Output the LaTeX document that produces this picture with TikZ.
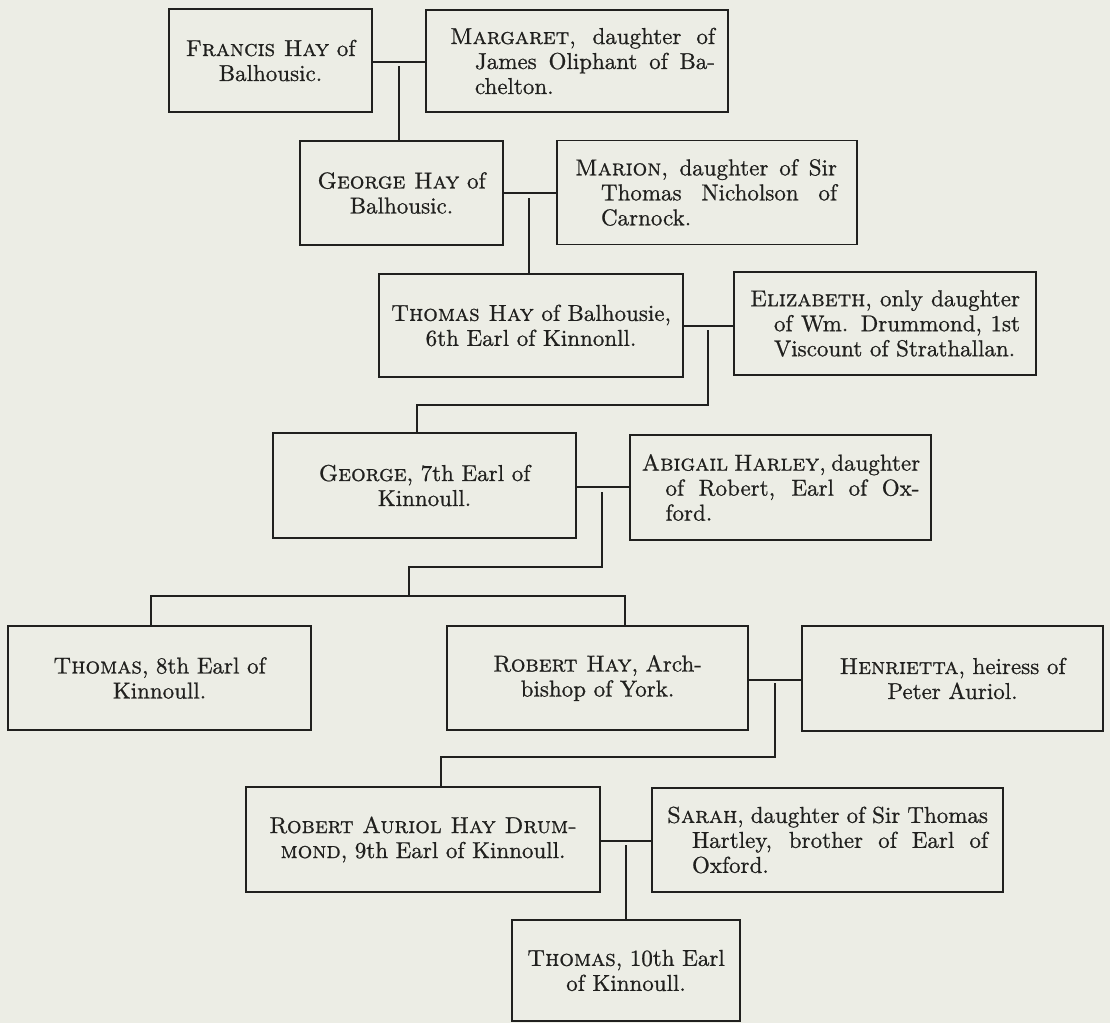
\documentclass[tikz,border=0pt]{standalone}
\usepackage{fontspec}
\setmainfont{lmroman10-regular.otf}[SmallCapsFont=lmromancaps10-regular.otf, ItalicFont=lmroman10-italic.otf, BoldFont=lmroman10-bold.otf, FakeBold=0.8, SmallCapsFeatures={FakeBold=0.8}]
\definecolor{paper}{RGB}{236,237,229}
\definecolor{ink}{RGB}{32,32,30}
\newcommand\justline[2]{\makebox[#1][s]{#2}}
\tikzset{
  box/.style={draw=ink, line width=1.3pt, inner sep=0pt, outer sep=0pt, text=ink,
    font=\fontsize{23}{25}\selectfont},
  hbox/.style={box, align=center},
  wbox/.style={box, align=left},
  link/.style={draw=ink, line width=1.6pt},
}
\begin{document}
\begin{tikzpicture}[x=1pt,y=-1pt]
\fill[paper] (0,0) rectangle (1110,1023);
\useasboundingbox (0,0) rectangle (1110,1023);

% generation 1
\node[hbox, minimum width=203pt, minimum height=103pt] (francis) at (270.5,60.5)
  {\textsc{Francis Hay} of\\Balhousic.};
\node[wbox, minimum width=302pt, minimum height=102pt] (margaret) at (577,61)
  {\hspace*{11pt}\justline{265pt}{\textsc{Margaret}, daughter of}\\
   \hspace*{36pt}\justline{240pt}{James Oliphant of Ba-}\\
   \hspace*{36pt}chelton.};

% generation 2
\node[hbox, minimum width=203pt, minimum height=104pt] (georgeh) at (401.5,193)
  {\textsc{George Hay} of\\Balhousic.};
\node[wbox, minimum width=300pt, minimum height=104pt] (marion) at (707,192.5)
  {\hspace*{-2pt}\justline{262pt}{\textsc{Marion}, daughter of Sir}\\
   \hspace*{24pt}\justline{236pt}{Thomas Nicholson of}\\
   \hspace*{24pt}Carnock.};

% generation 3
\node[hbox, minimum width=304pt, minimum height=103pt] (thomash) at (531,325.5)
  {\textsc{Thomas Hay} of Balhousie,\\6th Earl of Kinnonll.};
\node[wbox, minimum width=302pt, minimum height=103pt] (elizabeth) at (885,323.5)
  {\justline{270pt}{\textsc{Elizabeth}, only daughter}\\
   \hspace*{24pt}\justline{246pt}{of Wm. Drummond, 1st}\\
   \hspace*{24pt}Viscount of Strathallan.};

% generation 4
\node[hbox, minimum width=303pt, minimum height=105pt] (george7) at (424.5,485.5)
  {\textsc{George}, 7th Earl of\\Kinnoull.};
\node[wbox, minimum width=301pt, minimum height=105pt] (abigail) at (780.5,487.5)
  {\justline{278pt}{\textsc{Abigail Harley}, daughter}\\
   \hspace*{24pt}\justline{254pt}{of Robert, Earl of Ox-}\\
   \hspace*{24pt}ford.};

% generation 5
\node[hbox, minimum width=303pt, minimum height=104pt] (thomas8) at (159.5,678)
  {\textsc{Thomas}, 8th Earl of\\Kinnoull.};
\node[hbox, minimum width=301pt, minimum height=104pt] (roberth) at (597.5,678)
  {\textsc{Robert Hay}, Arch-\\bishop of York.};
\node[hbox, minimum width=301pt, minimum height=105pt] (henrietta) at (952.5,678.5)
  {\textsc{Henrietta}, heiress of\\Peter Auriol.};

% generation 6
\node[hbox, minimum width=354pt, minimum height=105pt] (robertah) at (423,839.5)
  {\textsc{Robert Auriol Hay Drum-}\\\textsc{mond}, 9th Earl of Kinnoull.};
\node[wbox, minimum width=351pt, minimum height=104pt] (sarah) at (827.5,840)
  {\justline{321pt}{\textsc{Sarah}, daughter of Sir Thomas}\\
   \hspace*{25pt}\justline{296pt}{Hartley, brother of Earl of}\\
   \hspace*{25pt}Oxford.};

% generation 7
\node[hbox, minimum width=228pt, minimum height=101pt] (thomas10) at (626,970.5)
  {\textsc{Thomas}, 10th Earl\\of Kinnoull.};

% junctions (marriage lines) and the small gaps below them
\coordinate (j1) at (399,62);   \coordinate (d1) at (399,66);
\coordinate (j2) at (529,193);  \coordinate (d2) at (529,198);
\coordinate (j3) at (708,326);  \coordinate (d3) at (708,330);
\coordinate (k3) at (417,405);
\coordinate (j4) at (602,487);  \coordinate (d4) at (602,492);
\coordinate (k4) at (409,567);
\coordinate (s4) at (409,596);
\coordinate (c4a) at (151,596);
\coordinate (c4b) at (625,596);
\coordinate (j5) at (775,680);  \coordinate (d5) at (775,683);
\coordinate (k5) at (441,757);
\coordinate (j6) at (626,841);  \coordinate (d6) at (626,845);

% connectors
\draw[link] (francis.east |- j1) -- (margaret.west |- j1);
\draw[link] (d1) -- (georgeh.north -| d1);

\draw[link] (georgeh.east |- j2) -- (marion.west |- j2);
\draw[link] (d2) -- (thomash.north -| d2);

\draw[link] (thomash.east |- j3) -- (elizabeth.west |- j3);
\draw[link] (d3) |- (k3) -- (george7.north -| k3);

\draw[link] (george7.east |- j4) -- (abigail.west |- j4);
\draw[link] (d4) |- (k4) -- (s4);
\draw[link] (thomas8.north -| c4a) -- (c4a) -- (c4b) -- (roberth.north -| c4b);

\draw[link] (roberth.east |- j5) -- (henrietta.west |- j5);
\draw[link] (d5) |- (k5) -- (robertah.north -| k5);

\draw[link] (robertah.east |- j6) -- (sarah.west |- j6);
\draw[link] (d6) -- (thomas10.north -| d6);
\end{tikzpicture}
\end{document}
